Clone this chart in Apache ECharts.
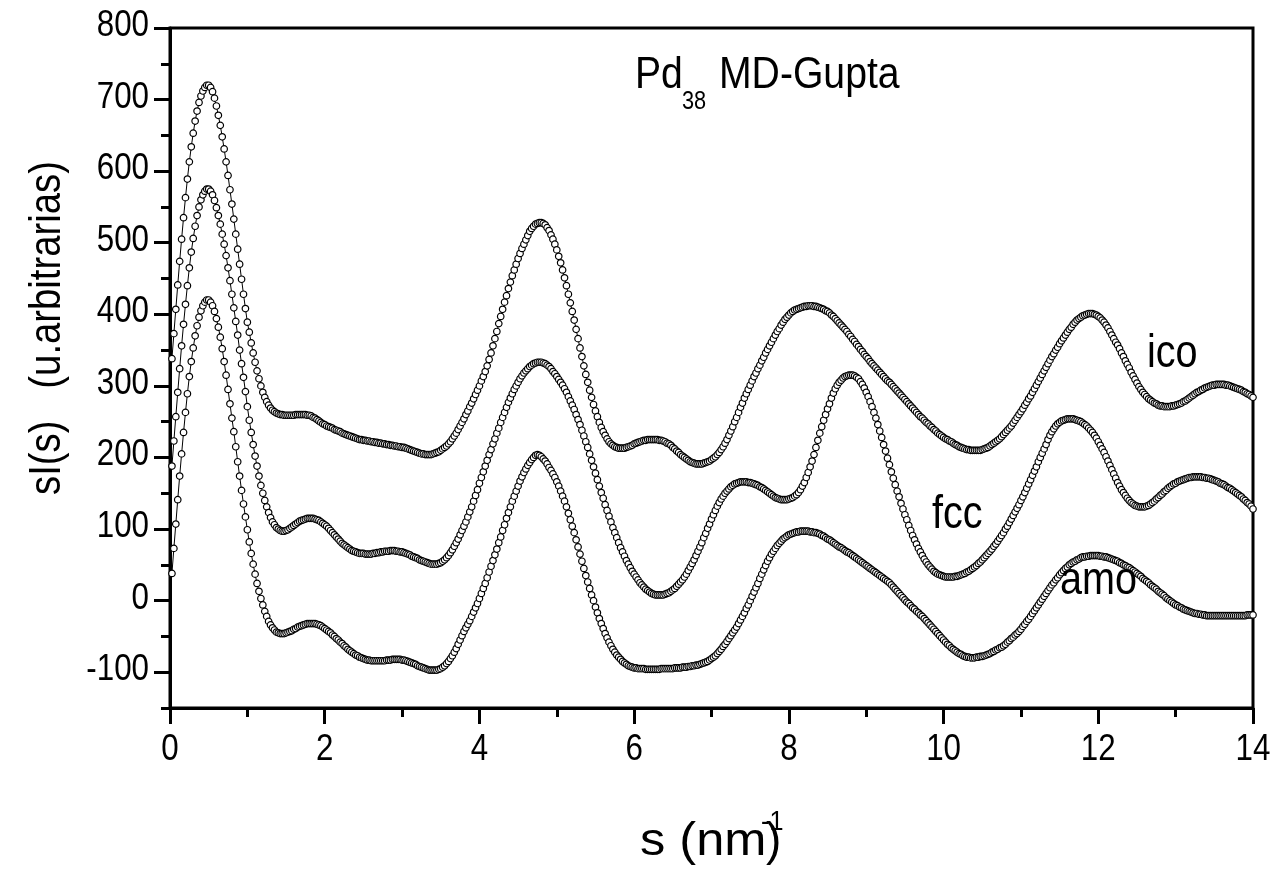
<!DOCTYPE html>
<html>
<head>
<meta charset="utf-8">
<script src="https://cdn.jsdelivr.net/npm/echarts@6/dist/echarts.min.js"></script>
<style>
  html, body { margin: 0; padding: 0; background: #fff; }
  #chart { width: 1278px; height: 873px; }
</style>
</head>
<body>
<div id="chart"></div>
<script>
// Sampling grid of the scattering variable s (nm^-1)
const S_START = 0.025;
const S_STEP = 0.025;

// sI(s) for the amorphous structure, one row per 0.5 nm^-1
const amo = [
  38,73,107,141,174,205,235,263,289,313,334,353,370,384,396,405,412,417,420,420,
  417,412,404,394,382,368,352,334,315,295,275,255,236,215,194,174,154,135,117,99,
  82,66,51,37,24,13,3,-6,-15,-22,-29,-34,-38,-41,-44,-45,-46,-46,-46,-45,
  -44,-43,-42,-40,-39,-37,-36,-35,-34,-33,-32,-32,-32,-32,-32,-33,-34,-35,-37,-39,
  -41,-43,-45,-48,-50,-53,-55,-58,-60,-63,-65,-68,-70,-72,-74,-76,-77,-79,-80,-81,
  -82,-83,-83,-84,-84,-84,-84,-84,-84,-84,-84,-83,-83,-83,-82,-82,-82,-82,-82,-83,
  -83,-84,-85,-86,-87,-88,-89,-91,-92,-93,-94,-95,-96,-97,-97,-97,-97,-97,-96,-95,
  -93,-91,-88,-85,-81,-77,-72,-67,-61,-55,-49,-43,-38,-33,-28,-22,-16,-10,-4,3,
  10,17,24,32,40,48,56,64,72,81,89,98,106,115,123,131,139,146,153,160,
  167,173,179,184,189,193,197,200,203,204,203,201,198,195,191,186,182,177,172,166,
  160,153,146,139,131,122,113,104,95,85,75,65,55,45,35,26,17,8,0,-9,
  -17,-25,-32,-39,-46,-52,-58,-63,-68,-72,-76,-79,-82,-85,-87,-89,-91,-92,-93,-94,
  -94,-95,-95,-95,-95,-96,-96,-96,-96,-96,-96,-96,-96,-95,-95,-95,-95,-95,-95,-95,
  -94,-94,-94,-94,-93,-93,-93,-92,-92,-91,-91,-90,-90,-89,-88,-87,-86,-85,-83,-81,
  -79,-77,-74,-71,-68,-64,-61,-57,-53,-49,-45,-41,-37,-32,-27,-22,-17,-11,-6,0,
  6,12,18,24,31,37,43,49,55,60,65,69,73,77,80,83,86,88,90,92,
  93,94,95,96,96,97,97,97,97,97,96,96,95,95,94,93,91,90,88,86,
  85,83,81,79,77,75,74,72,70,68,67,65,63,61,59,57,55,53,51,49,
  47,45,43,41,39,37,35,33,31,29,27,25,22,19,16,13,10,7,4,1,
  -2,-4,-7,-10,-12,-15,-17,-20,-22,-25,-28,-31,-34,-37,-40,-43,-46,-49,-52,-55,
  -58,-61,-63,-66,-68,-70,-72,-74,-75,-77,-78,-79,-79,-80,-80,-80,-79,-79,-78,-78,
  -77,-76,-75,-74,-72,-71,-69,-68,-66,-65,-63,-61,-58,-56,-53,-51,-48,-46,-43,-40,
  -36,-33,-29,-26,-22,-18,-14,-10,-6,-2,2,6,10,14,18,22,25,29,32,36,
  39,42,45,47,50,52,54,55,57,58,60,61,61,62,62,63,63,63,63,63,
  62,62,61,61,60,59,58,57,56,55,53,52,50,49,47,46,44,42,40,38,
  36,34,31,29,27,25,22,20,18,16,13,11,9,7,4,2,0,-2,-4,-6,
  -7,-9,-10,-12,-13,-14,-15,-16,-17,-18,-18,-19,-19,-20,-20,-21,-21,-21,-21,-21,
  -21,-21,-21,-21,-21,-21,-21,-21,-21,-21,-21,-21,-21,-21,-21,-21,-20,-20,-20,-20
];

// sI(s) for the fcc structure (shifted curve)
const fcc = [
  188,223,257,291,324,356,386,414,440,465,487,506,523,538,550,560,567,572,575,575,
  572,567,559,549,538,526,512,498,482,465,447,428,409,390,371,350,331,312,292,271,
  252,235,218,202,188,174,161,150,140,131,123,116,110,106,102,100,98,97,97,98,
  99,101,103,105,107,109,111,112,113,114,115,115,115,115,114,113,112,110,108,106,
  104,101,98,95,92,89,86,83,80,78,76,74,72,70,69,68,67,66,66,66,
  65,65,65,65,66,66,67,67,68,68,69,69,69,70,70,70,69,69,68,68,
  67,66,65,64,62,61,60,59,57,56,55,54,53,52,51,51,51,51,52,53,
  55,57,60,63,67,71,76,81,86,92,98,104,110,117,124,131,139,147,155,164,
  172,180,188,196,204,211,219,226,234,241,249,256,263,270,277,283,289,295,300,305,
  310,314,318,321,324,327,329,331,332,333,333,333,332,331,329,327,324,320,317,313,
  309,305,301,296,291,285,279,273,267,260,253,246,238,230,222,214,205,196,187,178,
  169,160,151,143,134,126,118,110,102,95,88,81,74,68,62,56,51,46,41,37,
  33,29,25,22,19,16,14,12,10,9,8,8,8,8,8,9,10,11,13,15,
  17,20,23,26,29,33,37,42,47,52,57,63,69,75,81,88,94,101,107,114,
  120,126,132,137,142,146,150,153,156,159,161,163,164,165,166,166,166,166,165,165,
  164,163,162,161,159,158,156,154,152,150,148,146,144,143,142,141,141,141,141,142,
  143,144,146,148,151,155,160,165,172,179,187,195,204,214,224,234,243,252,260,268,
  275,283,290,296,301,305,308,311,313,314,315,315,315,314,312,310,306,302,297,291,
  285,278,271,263,255,246,237,228,218,209,199,190,180,171,162,153,145,136,128,120,
  113,105,98,91,85,79,73,68,63,58,54,50,47,44,41,39,37,36,35,34,
  33,33,33,33,33,34,34,35,36,37,38,40,41,43,45,47,49,52,54,57,
  60,63,66,69,72,76,79,83,87,91,95,100,104,109,114,119,124,129,134,140,
  145,151,157,163,169,175,181,187,194,200,206,212,218,225,231,236,240,244,247,249,
  251,252,253,254,254,254,254,253,252,251,250,248,246,244,241,238,235,231,227,222,
  217,212,207,201,195,189,183,177,171,165,160,155,151,147,143,140,137,135,133,132,
  131,131,131,131,132,133,135,137,139,142,144,147,149,152,154,157,159,161,163,164,
  166,167,168,169,170,171,172,172,173,173,173,173,173,172,172,171,171,170,169,168,
  167,166,164,163,162,160,158,157,155,153,151,149,147,145,142,140,137,135,132,128
];

// sI(s) for the icosahedral structure (shifted curve)
const ico = [
  338,373,407,441,474,505,535,563,589,613,634,653,670,684,696,705,712,717,720,720,
  717,711,702,691,678,664,648,631,613,594,574,554,533,512,491,470,449,428,408,389,
  375,360,346,333,321,310,300,291,284,278,273,269,266,264,262,261,260,260,259,259,
  259,259,259,259,260,260,260,260,260,260,259,259,258,256,255,253,251,249,247,246,
  244,243,242,241,239,238,237,236,234,233,232,231,230,229,228,227,226,225,225,224,
  224,223,223,222,222,221,221,220,220,219,219,218,218,217,217,216,216,215,215,214,
  214,213,212,211,210,209,208,207,206,205,205,204,204,204,204,205,206,207,208,210,
  212,214,216,219,222,226,230,234,239,244,249,254,260,265,271,276,282,288,294,300,
  307,313,320,328,337,346,356,366,376,387,397,407,417,426,436,445,454,462,470,478,
  485,492,498,504,510,516,520,523,526,527,528,528,527,525,521,517,511,505,498,490,
  481,472,462,451,440,428,416,404,392,379,366,353,341,328,316,305,294,284,274,265,
  257,249,242,236,231,226,222,219,217,215,214,213,213,213,213,214,215,216,217,219,
  220,221,222,223,224,224,225,225,225,225,225,225,224,224,223,222,220,219,217,214,
  212,209,207,204,202,200,198,196,194,193,192,191,191,191,191,192,193,194,195,197,
  199,201,204,207,211,215,220,225,231,237,243,250,256,263,270,276,283,289,295,301,
  307,313,318,324,329,335,340,346,351,356,361,366,371,376,380,385,389,393,396,399,
  402,404,406,407,408,409,410,411,411,412,412,412,411,411,410,409,408,407,405,404,
  402,399,397,394,391,388,385,382,379,376,372,369,365,362,358,355,351,348,344,341,
  338,334,331,328,325,322,319,316,313,310,307,305,302,299,296,293,290,287,284,281,
  278,275,272,269,266,263,260,257,255,252,249,247,244,242,239,237,234,232,230,228,
  226,225,223,222,220,218,217,215,214,213,212,211,211,210,210,210,210,210,210,211,
  212,213,214,216,218,220,222,224,226,229,232,235,238,241,244,248,252,256,260,264,
  268,273,277,282,286,291,296,301,306,311,316,321,326,331,336,341,345,350,354,359,
  363,367,371,375,379,382,386,389,392,394,396,398,399,400,401,401,401,400,399,397,
  395,392,389,385,381,376,371,366,361,357,352,346,341,335,330,325,319,314,309,304,
  299,295,291,288,285,282,280,278,276,275,273,272,272,271,271,271,271,272,272,273,
  274,275,276,278,279,281,283,285,287,289,291,292,294,295,297,298,299,300,301,301,
  302,302,302,302,302,301,301,300,299,298,297,296,295,294,292,291,289,288,286,284
];

// Axis ticks and their labels
const xMajorTicks = [0, 2, 4, 6, 8, 10, 12, 14];
const yMajorTicks = [-100, 0, 100, 200, 300, 400, 500, 600, 700, 800];
const yMinorTicks = [-150, -50, 50, 150, 250, 350, 450, 550, 650, 750];

// Texts
const panelTitle = { main: 'Pd', sub: '38', rest: 'MD-Gupta' };
const curveNames = { ico: 'ico', fcc: 'fcc', amo: 'amo' };
const yTitle = 'sI(s)   (u.arbitrarias)';
const xTitle = { base: 's (nm', sup: '-1', close: ')' };

const FONT = "'Liberation Sans', Arial, Helvetica, sans-serif";
const TICK_FONT = 36;
const NARROW = 0.87;

function toPoints(values) {
  return values.map((v, i) => [+(S_START + i * S_STEP).toFixed(3), v]);
}

function curve(name, values) {
  return {
    name: name,
    type: 'line',
    data: toPoints(values),
    symbol: 'circle',
    symbolSize: 6.5,
    showAllSymbol: true,
    lineStyle: { color: '#000', width: 1 },
    itemStyle: { color: '#fff', borderColor: '#000', borderWidth: 1.2 },
    emphasis: { disabled: true },
    silent: true
  };
}

function label(text, x, y, size, sx, align) {
  return {
    type: 'text',
    x: x,
    y: y,
    scaleX: sx,
    z: 100,
    style: {
      text: text,
      font: size + 'px ' + FONT,
      fill: '#000',
      align: align || 'left',
      verticalAlign: 'middle'
    }
  };
}

const chart = echarts.init(document.getElementById('chart'), null, { renderer: 'canvas' });

chart.setOption({
  animation: false,
  backgroundColor: '#fff',
  grid: {
    left: 170, right: 25, top: 28, bottom: 165,
    show: true, borderColor: '#000', borderWidth: 3
  },
  xAxis: {
    type: 'value',
    min: 0, max: 14, interval: 2,
    axisLine: { show: true, onZero: false, lineStyle: { color: '#000', width: 3 } },
    axisTick: { show: true, length: 16, lineStyle: { color: '#000', width: 3 } },
    minorTick: { show: true, splitNumber: 2, length: 9, lineStyle: { color: '#000', width: 3 } },
    axisLabel: { show: false },
    splitLine: { show: false }
  },
  yAxis: [
    {
      type: 'value',
      min: -150, max: 800,
      axisLine: { show: true, onZero: false, lineStyle: { color: '#000', width: 3 } },
      axisTick: { show: true, customValues: yMajorTicks, length: 16, lineStyle: { color: '#000', width: 3 } },
      axisLabel: { show: false },
      splitLine: { show: false }
    },
    {
      type: 'value',
      min: -150, max: 800,
      position: 'left',
      axisLine: { show: false },
      axisTick: { show: true, customValues: yMinorTicks, length: 9, lineStyle: { color: '#000', width: 3 } },
      axisLabel: { show: false },
      splitLine: { show: false }
    }
  ],
  series: [
    curve('ico', ico),
    curve('fcc', fcc),
    curve('amo', amo)
  ]
});

// Tick labels placed through the axis scales, in a narrow face
const xAxisY = chart.convertToPixel({ yAxisIndex: 0 }, -150);
const yAxisX = chart.convertToPixel({ xAxisIndex: 0 }, 0);
const tickLabels = [];
xMajorTicks.forEach(v => {
  tickLabels.push(label(String(v), chart.convertToPixel({ xAxisIndex: 0 }, v), xAxisY + 42, TICK_FONT, NARROW, 'center'));
});
yMajorTicks.forEach(v => {
  tickLabels.push(label(String(v), yAxisX - 21, chart.convertToPixel({ yAxisIndex: 0 }, v) - 2, TICK_FONT, NARROW, 'right'));
});

chart.setOption({
  graphic: tickLabels.concat([
    label(panelTitle.main, 635, 76, 45, 0.87),
    label(panelTitle.sub, 682, 102, 25, 0.87),
    label(panelTitle.rest, 719, 76, 45, 0.87),
    label(curveNames.ico, 1147, 354, 46, 0.86),
    label(curveNames.fcc, 932, 515, 46, 0.86),
    label(curveNames.amo, 1060, 581, 46, 0.86),
    label(xTitle.base, 640, 842, 46, 1.1),
    label(xTitle.sup, 761, 822, 28, 0.9),
    label(xTitle.close, 766, 842, 46, 1.0),
    {
      type: 'text',
      x: 48, y: 328,
      rotation: Math.PI / 2,
      scaleX: 0.87,
      z: 100,
      style: {
        text: yTitle,
        font: '44px ' + FONT,
        fill: '#000',
        align: 'center',
        verticalAlign: 'middle'
      }
    }
  ])
});
</script>
</body>
</html>
